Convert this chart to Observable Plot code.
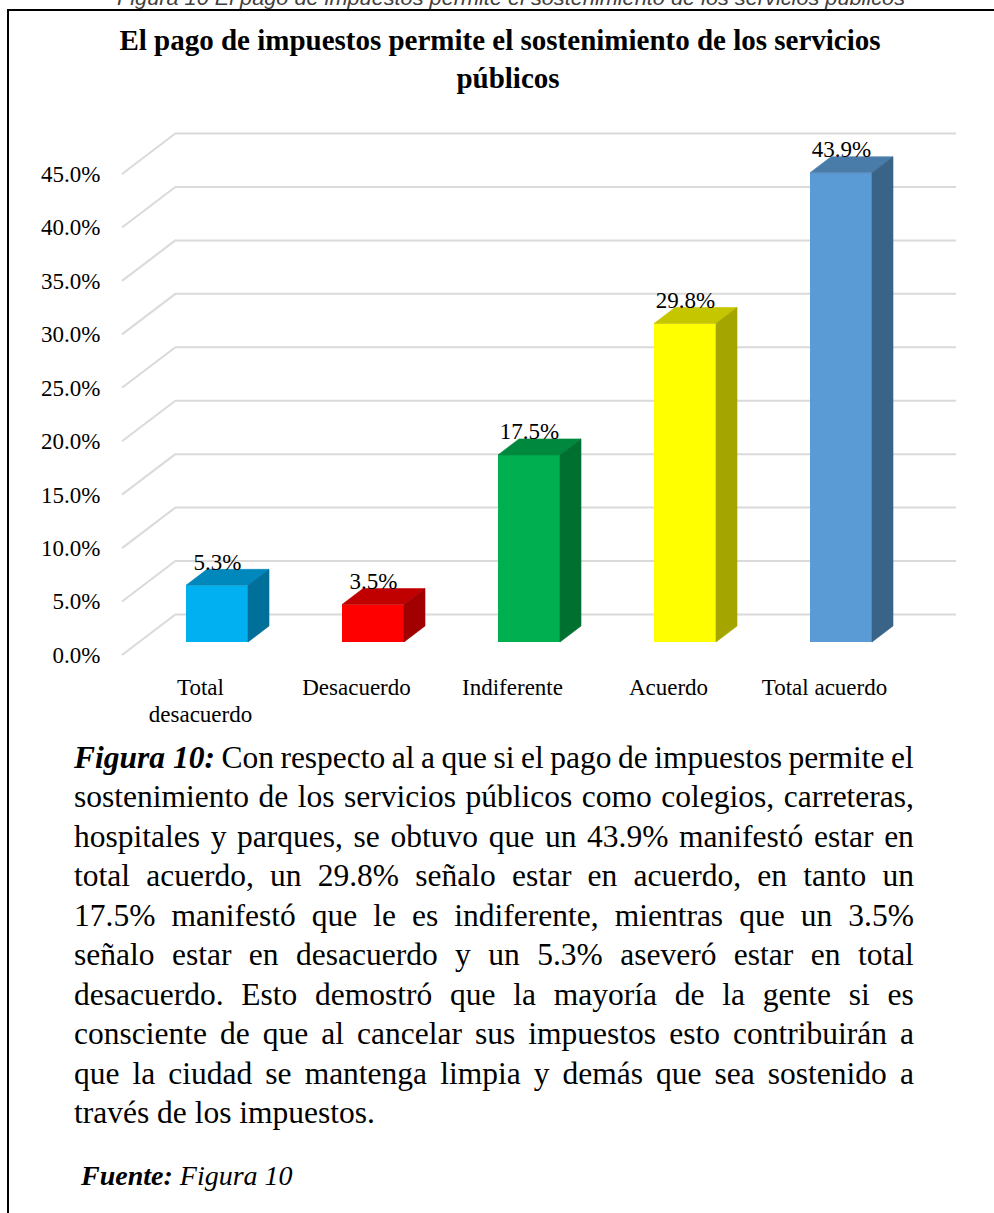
<!DOCTYPE html>
<html><head><meta charset="utf-8">
<script src="https://cdn.jsdelivr.net/npm/d3@7"></script>
<script src="https://cdn.jsdelivr.net/npm/@observablehq/plot@0.6"></script>
<style>
html,body{margin:0;padding:0;background:#fff;overflow:hidden;}
#page{position:relative;width:994px;height:1213px;overflow:hidden;font-family:'Liberation Serif','Times New Roman',serif;color:#000;}
#frame{position:absolute;left:7px;top:9px;width:1100px;height:1300px;border-left:2px solid #000;border-top:2px solid #000;z-index:2;pointer-events:none;}
#topcap{position:absolute;left:0;top:-20px;}
.title{position:absolute;width:994px;text-align:center;font-weight:bold;font-size:29px;line-height:38px;white-space:nowrap;}
#chart{position:absolute;left:0;top:110px;}
#para{position:absolute;left:74px;top:737.6px;width:840px;font-size:31.5px;line-height:39.5px;}
.ln{display:flex;justify-content:space-between;height:39.5px;white-space:nowrap;}
.last{height:39.5px;white-space:nowrap;}
#src{position:absolute;left:81px;top:1156px;font-size:28px;line-height:40px;font-style:italic;white-space:nowrap;}
</style>
</head>
<body>
<div id="page">
  <svg id="topcap" width="994" height="30"><text x="117" y="25" font-family="'Liberation Sans',Arial,sans-serif" font-style="italic" font-size="20" fill="#404040" textLength="788" lengthAdjust="spacingAndGlyphs">Figura 10 El pago de impuestos permite el sostenimiento de los servicios públicos</text></svg>
  <div id="frame"></div>
  <div class="title" style="left:3px;top:21px;">El pago de impuestos permite el sostenimiento de los servicios</div>
  <div class="title" style="left:11px;top:59px;">públicos</div>
  <div id="chart"></div>
  <div id="para"></div>
  <div id="src"><b>Fuente:</b> Figura 10</div>
</div>
<script>
// ---- data ----
const categories = ["Total desacuerdo", "Desacuerdo", "Indiferente", "Acuerdo", "Total acuerdo"];
const categoryLabels = ["Total\ndesacuerdo", "Desacuerdo", "Indiferente", "Acuerdo", "Total acuerdo"];
const values = [5.3, 3.5, 17.5, 29.8, 43.9];
const frontColors = ["#00B0F0", "#FF0000", "#00B050", "#FFFF00", "#5B9BD5"];
const topColors = ["#0088BC", "#C00000", "#00893E", "#C6C600", "#4A7CAA"];
const sideColors = ["#006F99", "#A00000", "#007030", "#A5A500", "#3A6388"];
const yTicks = [0, 5, 10, 15, 20, 25, 30, 35, 40, 45];

const captionLead = "Figura 10:";
const paragraphLines = [
  "Con respecto al a que si el pago de impuestos permite el",
  "sostenimiento de los servicios públicos como colegios, carreteras,",
  "hospitales y parques, se obtuvo que un 43.9% manifestó estar en",
  "total acuerdo, un 29.8% señalo estar en acuerdo, en tanto un",
  "17.5% manifestó que le es indiferente, mientras que un 3.5%",
  "señalo estar en desacuerdo y un 5.3% aseveró estar en total",
  "desacuerdo. Esto demostró que la mayoría de la gente si es",
  "consciente de que al cancelar sus impuestos esto contribuirán a",
  "que la ciudad se mantenga limpia y demás que sea sostenido a",
  "través de los impuestos."
];

// ---- style / 3D geometry ----
const GRID = "#DADADA";
const FRONT = {dx: -17, dy: 13};
const BACK = {dx: 37, dy: -28};
const DEPTH = {dx: 21, dy: -16};

const rows = categories.map((c, i) => ({
  category: c, value: values[i], front: frontColors[i], top: topColors[i], side: sideColors[i]
}));

function gridDiagonals(index, scales, vals, dimensions) {
  const g = d3.create("svg:g").attr("stroke", GRID).attr("stroke-width", 2);
  const xl = dimensions.marginLeft;
  yTicks.forEach(t => {
    const y = scales.y(t);
    g.append("line")
      .attr("x1", xl + FRONT.dx).attr("y1", y + FRONT.dy)
      .attr("x2", xl + BACK.dx).attr("y2", y + BACK.dy);
  });
  return g.node();
}

function barFaces(index, scales) {
  const sx = scales.x, sy = scales.y;
  const bw = typeof sx.bandwidth === "function" ? sx.bandwidth() : sx.bandwidth;
  const g = d3.create("svg:g");
  const y0 = sy(0);
  rows.forEach(r => {
    const x0 = sx(r.category), x1 = x0 + bw, yv = sy(r.value);
    g.append("polygon")
      .attr("points", [[x0, yv], [x1, yv], [x1 + DEPTH.dx, yv + DEPTH.dy], [x0 + DEPTH.dx, yv + DEPTH.dy]].join(" "))
      .attr("fill", r.top).attr("stroke", r.top).attr("stroke-width", 0.6);
    g.append("polygon")
      .attr("points", [[x1, yv], [x1 + DEPTH.dx, yv + DEPTH.dy], [x1 + DEPTH.dx, y0 + DEPTH.dy], [x1, y0]].join(" "))
      .attr("fill", r.side).attr("stroke", r.side).attr("stroke-width", 0.6);
  });
  return g.node();
}

const chart = Plot.plot({
  width: 994,
  height: 620,
  marginLeft: 139,
  marginRight: 75,
  marginTop: 51,
  marginBottom: 88,
  x: {domain: categories, paddingInner: 0.6, paddingOuter: 0.3, axis: null},
  y: {domain: [0, 45], axis: null},
  color: {type: "identity"},
  style: {
    fontFamily: "'Liberation Serif','Times New Roman',serif",
    fontSize: "23px",
    color: "#000",
    background: "transparent",
    overflow: "visible"
  },
  marks: [
    Plot.ruleY(yTicks, {stroke: GRID, strokeWidth: 2, dx: BACK.dx, dy: BACK.dy}),
    gridDiagonals,
    Plot.barY(rows, {x: "category", y: "value", fill: "front"}),
    barFaces,
    Plot.text(rows, {
      x: "category", y: "value",
      text: d => d.value.toFixed(1) + "%",
      lineAnchor: "bottom", dy: DEPTH.dy,
      fontSize: 23, fill: "#000"
    }),
    Plot.axisY(yTicks, {
      tickSize: 0, tickPadding: 39, dy: FRONT.dy,
      tickFormat: d => d.toFixed(1) + "%",
      fontSize: 23, label: null, fill: "#000"
    }),
    Plot.axisX({
      tickSize: 0, tickPadding: 33, dx: FRONT.dx,
      tickFormat: d => categoryLabels[categories.indexOf(d)],
      lineHeight: 1.17, fontSize: 23, label: null, fill: "#000"
    })
  ]
});
document.getElementById("chart").appendChild(chart);

// ---- paragraph (justified lines) ----
const para = d3.select("#para");
paragraphLines.forEach((line, i) => {
  const isLast = i === paragraphLines.length - 1;
  const div = para.append("div").attr("class", isLast ? "last" : "ln");
  if (isLast) { div.text(line); return; }
  if (i === 0) div.append("span").style("white-space", "pre").append("b").append("i").text(captionLead);
  line.split(" ").forEach(w => div.append("span").text(w));
});
</script>
</body></html>
